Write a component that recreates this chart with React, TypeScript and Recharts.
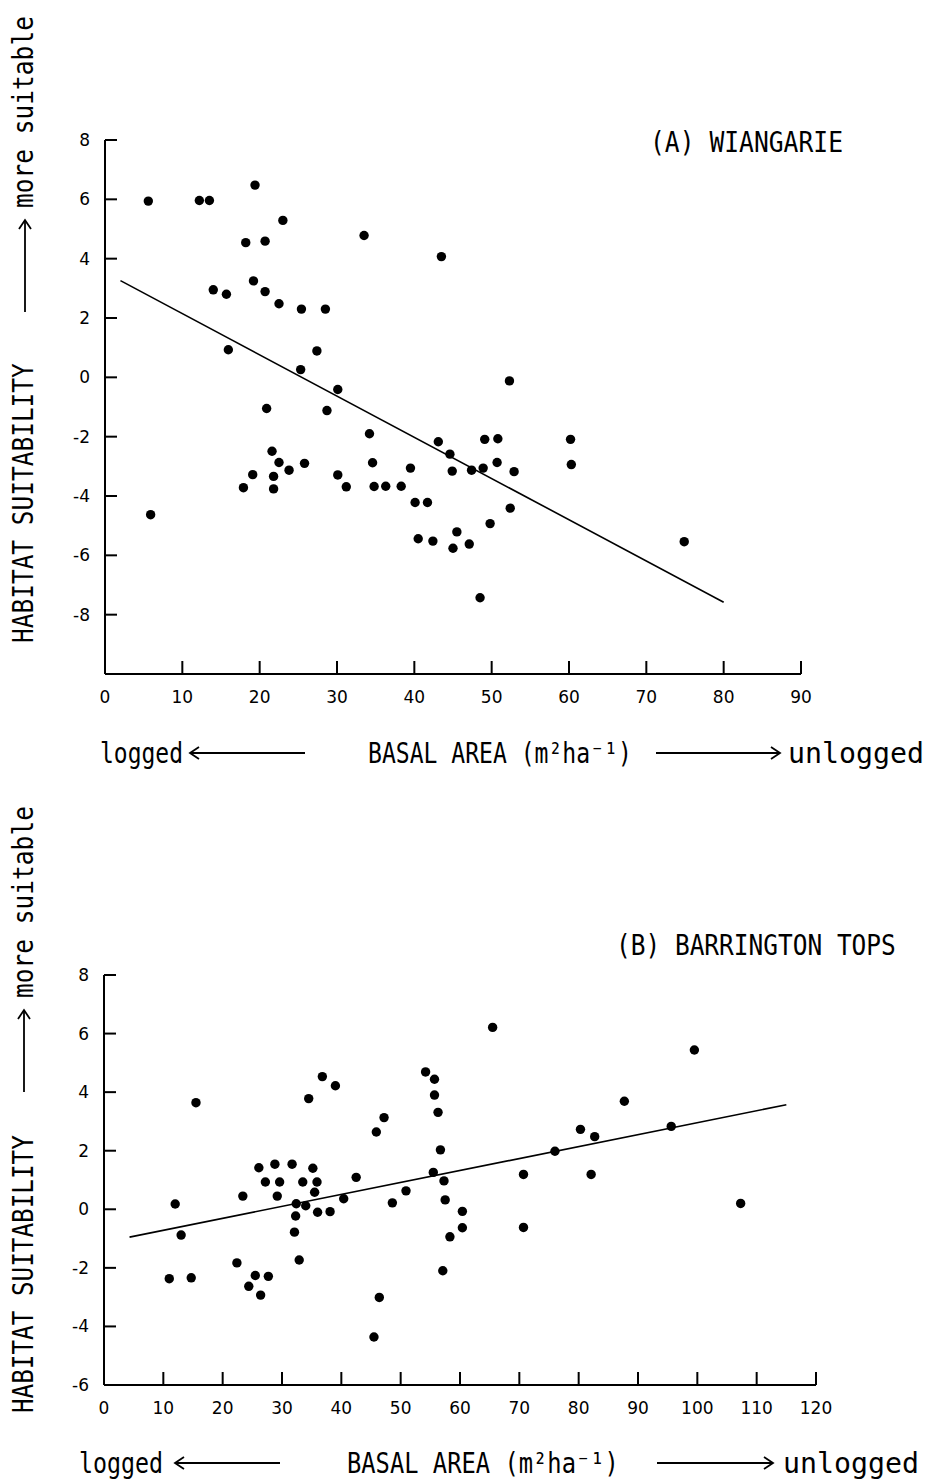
import React from 'react';
import { ScatterChart, Scatter, XAxis, YAxis, ReferenceLine } from 'recharts';

// ---------- (A) WIANGARIE ----------
const wiangarieBasalArea = [
  5.6, 12.2, 13.5, 19.4, 23.0, 18.2, 20.7, 33.5, 43.5, 14.0,
  15.7, 19.2, 20.7, 22.5, 25.4, 28.5, 15.95, 27.4, 25.3, 30.1,
  20.9, 28.7, 34.2, 21.6, 22.5, 23.8, 25.8, 19.1, 21.8, 17.9,
  21.8, 30.1, 31.2, 34.6, 34.8, 36.3, 38.3, 39.5, 40.1, 41.7,
  40.5, 42.4, 45.0, 45.5, 5.9, 43.1, 44.6, 44.9, 47.1, 47.4,
  48.9, 49.1, 50.8, 50.7, 52.9, 52.4, 49.8, 48.5, 60.2, 60.3,
  74.9, 52.3,
];
const wiangarieSuitability = [
  5.94, 5.96, 5.96, 6.48, 5.29, 4.54, 4.59, 4.78, 4.07, 2.95,
  2.8, 3.25, 2.89, 2.48, 2.3, 2.3, 0.93, 0.89, 0.26, -0.41,
  -1.05, -1.12, -1.9, -2.49, -2.87, -3.13, -2.9, -3.28, -3.34, -3.72,
  -3.76, -3.29, -3.69, -2.88, -3.68, -3.67, -3.67, -3.06, -4.22, -4.22,
  -5.44, -5.52, -5.76, -5.21, -4.63, -2.17, -2.59, -3.16, -5.62, -3.13,
  -3.06, -2.09, -2.07, -2.87, -3.18, -4.41, -4.93, -7.43, -2.09, -2.94,
  -5.54, -0.12,
];
const wiangarieFitX = [2, 80];
const wiangarieFitY = [3.26, -7.58];
const wiangarieXTicks = [0, 10, 20, 30, 40, 50, 60, 70, 80, 90];
const wiangarieYTicks = [-8, -6, -4, -2, 0, 2, 4, 6, 8];
const wiangarieXDomain = [0, 90];
const wiangarieYDomain = [-10, 8];

// ---------- (B) BARRINGTON TOPS ----------
const barringtonBasalArea = [
  15.5, 12.0, 23.4, 26.1, 28.8, 31.7, 35.2, 27.2, 29.6, 33.5,
  35.9, 29.2, 35.5, 32.4, 34.0, 36.0, 38.1, 32.3, 34.5, 36.8,
  39.0, 42.5, 40.4, 45.9, 47.2, 48.6, 50.9, 54.2, 55.7, 55.7,
  56.3, 56.7, 55.5, 57.3, 57.5, 60.4, 65.5, 70.7, 76.0, 80.3,
  82.7, 82.1, 87.7, 95.6, 99.5, 107.3, 13.0, 11.0, 14.7, 22.4,
  24.4, 25.5, 26.4, 27.7, 32.1, 32.9, 46.4, 45.5, 57.1, 58.3,
  60.4, 70.7,
];
const barringtonSuitability = [
  3.64, 0.18, 0.45, 1.42, 1.54, 1.54, 1.4, 0.93, 0.93, 0.93,
  0.93, 0.45, 0.58, 0.19, 0.12, -0.1, -0.08, -0.23, 3.78, 4.53,
  4.22, 1.09, 0.36, 2.64, 3.13, 0.22, 0.63, 4.69, 4.44, 3.9,
  3.31, 2.03, 1.26, 0.97, 0.32, -0.07, 6.21, 1.19, 1.98, 2.73,
  2.48, 1.19, 3.69, 2.83, 5.44, 0.2, -0.88, -2.37, -2.34, -1.83,
  -2.63, -2.26, -2.93, -2.29, -0.78, -1.73, -3.01, -4.36, -2.1, -0.94,
  -0.63, -0.62,
];
const barringtonFitX = [4.3, 115];
const barringtonFitY = [-0.95, 3.57];
const barringtonXTicks = [0, 10, 20, 30, 40, 50, 60, 70, 80, 90, 100, 110, 120];
const barringtonYTicks = [-6, -4, -2, 0, 2, 4, 6, 8];
const barringtonXDomain = [0, 120];
const barringtonYDomain = [-6, 8];

const TICK_FONT = '"DejaVu Sans", "Liberation Sans", sans-serif';
const LABEL_FONT = '"DejaVu Sans Mono", "Liberation Mono", monospace';

const XTick = (props: any) => {
  const { x, y, payload } = props;
  return (
    <g>
      <line x1={x} y1={y} x2={x} y2={y - 13} stroke="#000" strokeWidth={2} />
      <text x={x} y={y + 29} textAnchor="middle" fontFamily={TICK_FONT} fontSize={17} fill="#000">
        {payload.value}
      </text>
    </g>
  );
};

const YTick = (props: any) => {
  const { x, y, payload } = props;
  return (
    <g>
      <line x1={x} y1={y} x2={x + 12} y2={y} stroke="#000" strokeWidth={2} />
      <text x={x - 15} y={y} dy={6} textAnchor="end" fontFamily={TICK_FONT} fontSize={17} fill="#000">
        {payload.value}
      </text>
    </g>
  );
};

const Dot = (props: any) => <circle cx={props.cx} cy={props.cy} r={4.7} fill="#000" />;

type PanelProps = {
  xs: number[];
  ys: number[];
  fitX: number[];
  fitY: number[];
  xDomain: number[];
  yDomain: number[];
  xTicks: number[];
  yTicks: number[];
  width: number;
  height: number;
  margin: { top: number; right: number; bottom: number; left: number };
};

function Panel({ xs, ys, fitX, fitY, xDomain, yDomain, xTicks, yTicks, width, height, margin }: PanelProps) {
  const data = xs.map((x, i) => ({ x, y: ys[i] }));
  return (
    <ScatterChart width={width} height={height} margin={margin}>
      <XAxis
        type="number"
        dataKey="x"
        domain={xDomain}
        ticks={xTicks}
        interval={0}
        height={40}
        axisLine={{ stroke: '#000', strokeWidth: 2 }}
        tickLine={false}
        tickSize={0}
        tickMargin={0}
        tick={(p: any) => <XTick {...p} />}
      />
      <YAxis
        type="number"
        dataKey="y"
        domain={yDomain}
        ticks={yTicks}
        interval={0}
        width={60}
        axisLine={{ stroke: '#000', strokeWidth: 2 }}
        tickLine={false}
        tickSize={0}
        tickMargin={0}
        tick={(p: any) => <YTick {...p} />}
      />
      <ReferenceLine
        segment={[
          { x: fitX[0], y: fitY[0] },
          { x: fitX[1], y: fitY[1] },
        ]}
        stroke="#000"
        strokeWidth={1.6}
        ifOverflow="visible"
      />
      <Scatter data={data} isAnimationActive={false} shape={Dot} />
    </ScatterChart>
  );
}

// Condensed monospace label: scale horizontally so the text spans `len` px.
const FONT_SIZE = 28;
const Label = ({ x, y, len, rotate, children }: any) => {
  const text = String(children);
  const natural = text.length * 0.602 * FONT_SIZE;
  const sx = len / natural;
  return (
    <text
      x={0}
      y={0}
      transform={`translate(${x},${y})${rotate ? ' rotate(-90)' : ''} scale(${sx.toFixed(3)},1)`}
      fontFamily={LABEL_FONT}
      fontSize={FONT_SIZE}
      fill="#000"
    >
      {text}
    </text>
  );
};

const HArrow = ({ x1, x2, y }: any) => {
  const dir = x2 > x1 ? 1 : -1;
  return (
    <g stroke="#000" strokeWidth={1.8} fill="none">
      <line x1={x1} y1={y} x2={x2} y2={y} />
      <polyline points={`${x2 - dir * 9},${y - 6} ${x2},${y} ${x2 - dir * 9},${y + 6}`} />
    </g>
  );
};

const VArrow = ({ x, y1, y2 }: any) => (
  <g stroke="#000" strokeWidth={1.8} fill="none">
    <line x1={x} y1={y1} x2={x} y2={y2} />
    <polyline points={`${x - 6},${y2 + 9} ${x},${y2} ${x + 6},${y2 + 9}`} />
  </g>
);

export default function App() {
  return (
    <div style={{ position: 'absolute', left: 0, top: 0, width: 929, height: 1480, background: '#fff' }}>
      <div style={{ position: 'absolute', left: 0, top: 0 }}>
        <Panel
          xs={wiangarieBasalArea}
          ys={wiangarieSuitability}
          fitX={wiangarieFitX}
          fitY={wiangarieFitY}
          xDomain={wiangarieXDomain}
          yDomain={wiangarieYDomain}
          xTicks={wiangarieXTicks}
          yTicks={wiangarieYTicks}
          width={929}
          height={720}
          margin={{ top: 140, right: 128, bottom: 6, left: 45 }}
        />
      </div>
      <div style={{ position: 'absolute', left: 0, top: 800 }}>
        <Panel
          xs={barringtonBasalArea}
          ys={barringtonSuitability}
          fitX={barringtonFitX}
          fitY={barringtonFitY}
          xDomain={barringtonXDomain}
          yDomain={barringtonYDomain}
          xTicks={barringtonXTicks}
          yTicks={barringtonYTicks}
          width={929}
          height={680}
          margin={{ top: 175, right: 113, bottom: 55, left: 44 }}
        />
      </div>
      <svg
        width={929}
        height={1480}
        style={{ position: 'absolute', left: 0, top: 0, pointerEvents: 'none' }}
      >
        {/* Panel A text */}
        <Label x={650} y={152} len={193}>(A) WIANGARIE</Label>
        <Label x={33} y={643} len={280} rotate>HABITAT SUITABILITY</Label>
        <VArrow x={25} y1={312} y2={220} />
        <Label x={33} y={208} len={192} rotate>more suitable</Label>
        <Label x={100} y={763} len={83}>logged</Label>
        <HArrow x1={305} x2={190} y={753} />
        <Label x={368} y={763} len={264}>BASAL AREA (m²ha⁻¹)</Label>
        <HArrow x1={656} x2={780} y={753} />
        <Label x={788} y={763} len={136}>unlogged</Label>

        {/* Panel B text */}
        <Label x={616} y={955} len={280}>(B) BARRINGTON TOPS</Label>
        <Label x={33} y={1413} len={278} rotate>HABITAT SUITABILITY</Label>
        <VArrow x={24} y1={1092} y2={1010} />
        <Label x={33} y={998} len={192} rotate>more suitable</Label>
        <Label x={79} y={1473} len={84}>logged</Label>
        <HArrow x1={280} x2={175} y={1463} />
        <Label x={347} y={1473} len={272}>BASAL AREA (m²ha⁻¹)</Label>
        <HArrow x1={657} x2={773} y={1463} />
        <Label x={783} y={1473} len={136}>unlogged</Label>
      </svg>
    </div>
  );
}
